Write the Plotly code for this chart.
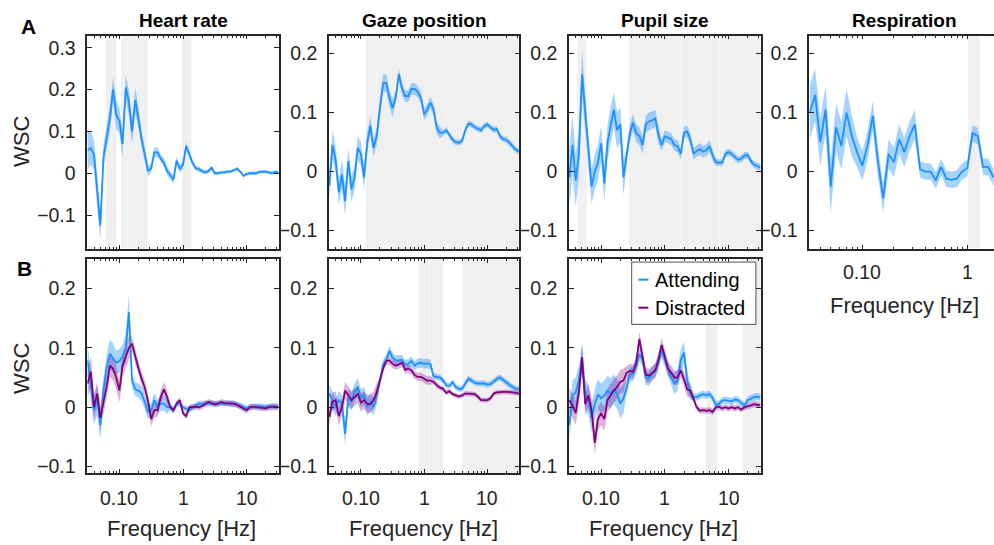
import math
import plotly.graph_objects as go

# ---------------- data ----------------
FREQ = [0.0316, 0.0355, 0.0398, 0.0447, 0.0501, 0.0562, 0.0631, 0.0708, 0.0794, 0.0891,
        0.1, 0.112, 0.126, 0.141, 0.158, 0.178, 0.2, 0.224, 0.251, 0.282,
        0.316, 0.355, 0.398, 0.447, 0.501, 0.562, 0.631, 0.708, 0.794, 0.891,
        1.0, 1.12, 1.26, 1.41, 1.58, 1.78, 2.0, 2.24, 2.51, 2.82,
        3.16, 3.55, 3.98, 4.47, 5.01, 5.62, 6.31, 7.08, 7.94, 8.91,
        10.0, 11.2, 12.6, 14.1, 15.8, 17.8, 20.0, 22.4, 25.1, 28.2, 31.6]
RESP_FREQ = FREQ[:36]

HEART_A = [0.055, 0.06, 0.045, -0.05, -0.125, 0.04, 0.09, 0.13, 0.20, 0.14,
           0.125, 0.07, 0.205, 0.17, 0.10, 0.175, 0.13, 0.08, 0.045, 0.005,
           0.012, 0.05, 0.05, 0.035, 0.025, 0.005, -0.005, -0.015, 0.03, 0.01,
           0.02, 0.065, 0.045, 0.025, 0.012, 0.01, 0.005, 0.002, 0.005, 0.013,
           0.0, 0.0, 0.002, 0.002, 0.004, 0.004, 0.007, 0.011, 0.004, -0.006,
           -0.002, 0.0, 0.0, 0.0, 0.003, 0.004, 0.004, 0.002, 0.0, 0.003, 0.002]
HEART_A_SEM = [0.045, 0.04, 0.035, 0.035, 0.035, 0.03, 0.03, 0.03, 0.03, 0.035,
               0.03, 0.03, 0.03, 0.03, 0.03, 0.03, 0.025, 0.02, 0.018, 0.012,
               0.01, 0.012, 0.012, 0.01, 0.01, 0.01, 0.01, 0.01, 0.01, 0.01,
               0.01, 0.01, 0.008, 0.007, 0.006, 0.006, 0.005, 0.005, 0.005, 0.005,
               0.005, 0.004, 0.004, 0.004, 0.004, 0.004, 0.004, 0.004, 0.004, 0.004,
               0.004, 0.004, 0.004, 0.004, 0.004, 0.004, 0.004, 0.004, 0.004, 0.004, 0.004]

GAZE_A = [-0.024, 0.045, 0.02, -0.035, -0.005, -0.05, 0.018, -0.03, -0.01, 0.04,
          0.03, -0.01, 0.05, 0.078, 0.04, 0.06, 0.108, 0.15, 0.15, 0.125,
          0.108, 0.125, 0.165, 0.14, 0.128, 0.128, 0.14, 0.14, 0.135, 0.125,
          0.097, 0.105, 0.117, 0.105, 0.074, 0.066, 0.066, 0.07, 0.062, 0.054,
          0.05, 0.049, 0.052, 0.07, 0.081, 0.08, 0.075, 0.073, 0.07, 0.077,
          0.08, 0.075, 0.071, 0.072, 0.06, 0.055, 0.054, 0.049, 0.043, 0.037, 0.034]
GAZE_A_SEM = [0.025, 0.025, 0.022, 0.022, 0.025, 0.025, 0.022, 0.022, 0.02, 0.02,
              0.02, 0.02, 0.018, 0.015, 0.015, 0.015, 0.015, 0.015, 0.015, 0.015,
              0.015, 0.01, 0.01, 0.01, 0.01, 0.01, 0.01, 0.01, 0.01, 0.01,
              0.01, 0.01, 0.01, 0.01, 0.01, 0.01, 0.005, 0.005, 0.005, 0.005,
              0.005, 0.005, 0.005, 0.005, 0.005, 0.005, 0.005, 0.005, 0.005, 0.005,
              0.005, 0.005, 0.005, 0.005, 0.005, 0.005, 0.005, 0.005, 0.005, 0.005, 0.005]

PUPIL_A = [-0.01, 0.045, -0.015, 0.03, 0.165, 0.10, 0.03, -0.025, 0.0, 0.015,
           0.048, -0.02, 0.05, 0.08, 0.105, 0.07, 0.08, -0.01, 0.025, 0.065,
           0.083, 0.065, 0.06, 0.045, 0.08, 0.085, 0.087, 0.09, 0.062, 0.045,
           0.06, 0.058, 0.055, 0.045, 0.043, 0.03, 0.066, 0.068, 0.055, 0.03,
           0.035, 0.038, 0.034, 0.036, 0.043, 0.028, 0.016, 0.015, 0.015, 0.03,
           0.033, 0.03, 0.025, 0.02, 0.022, 0.027, 0.028, 0.018, 0.012, 0.01, 0.007]
PUPIL_A_SEM = [0.05, 0.05, 0.045, 0.04, 0.04, 0.03, 0.03, 0.03, 0.03, 0.03,
               0.03, 0.03, 0.03, 0.03, 0.03, 0.03, 0.03, 0.03, 0.015, 0.015,
               0.015, 0.015, 0.015, 0.015, 0.015, 0.015, 0.015, 0.015, 0.015, 0.01,
               0.01, 0.01, 0.01, 0.01, 0.01, 0.01, 0.01, 0.01, 0.01, 0.01,
               0.01, 0.01, 0.01, 0.01, 0.01, 0.01, 0.006, 0.006, 0.006, 0.006,
               0.006, 0.006, 0.006, 0.006, 0.006, 0.006, 0.006, 0.006, 0.006, 0.006, 0.006]

RESP_A = [0.10, 0.13, 0.05, 0.105, -0.025, 0.075, 0.044, 0.10, 0.06, 0.033,
          0.01, 0.044, 0.095, 0.016, -0.045, 0.03, 0.016, 0.055, 0.033, 0.06,
          0.08, 0.004, 0.0, 0.0, -0.015, 0.008, -0.012, -0.014, -0.012, 0.0,
          0.006, 0.065, 0.06, 0.008, 0.008, -0.01]
RESP_A_SEM = [0.045, 0.045, 0.04, 0.04, 0.045, 0.04, 0.04, 0.04, 0.035, 0.025,
              0.025, 0.025, 0.025, 0.025, 0.025, 0.025, 0.025, 0.025, 0.025, 0.025,
              0.025, 0.014, 0.014, 0.014, 0.014, 0.014, 0.014, 0.014, 0.014, 0.014,
              0.014, 0.014, 0.014, 0.014, 0.014, 0.014]

HEART_B_ATT = [0.079, 0.04, -0.005, 0.012, -0.03, 0.03, 0.068, 0.09, 0.083, 0.075,
               0.078, 0.085, 0.10, 0.16, 0.045, 0.03, 0.028, 0.023, 0.008, -0.008,
               -0.005, 0.012, 0.0, 0.006, 0.006, 0.0, 0.0, -0.005, 0.006, 0.006,
               0.0, -0.002, -0.005, 0.0, 0.003, 0.006, 0.006, 0.006, 0.006, 0.006,
               0.006, 0.007, 0.007, 0.007, 0.007, 0.006, 0.006, 0.004, 0.003, 0.0,
               -0.002, 0.0, 0.001, 0.002, 0.002, 0.001, 0.0, 0.001, 0.002, 0.002, 0.001]
HEART_B_ATT_SEM = [0.025, 0.025, 0.025, 0.025, 0.025, 0.02, 0.02, 0.025, 0.025, 0.02,
                   0.02, 0.02, 0.025, 0.03, 0.012, 0.012, 0.012, 0.012, 0.012, 0.012,
                   0.012, 0.012, 0.012, 0.012, 0.012, 0.012, 0.005, 0.005, 0.005, 0.005,
                   0.005, 0.005, 0.005, 0.005, 0.005, 0.005, 0.005, 0.005, 0.005, 0.005,
                   0.005, 0.005, 0.005, 0.005, 0.005, 0.005, 0.005, 0.005, 0.005, 0.005,
                   0.005, 0.005, 0.005, 0.005, 0.005, 0.005, 0.005, 0.005, 0.005, 0.005, 0.005]
HEART_B_DIS = [0.04, 0.06, 0.0, 0.023, -0.018, 0.01, 0.035, 0.07, 0.065, 0.05,
               0.028, 0.07, 0.085, 0.10, 0.107, 0.085, 0.065, 0.048, 0.033, 0.01,
               -0.02, -0.005, -0.005, 0.017, 0.03, 0.017, 0.0, -0.005, 0.006, 0.012,
               -0.01, -0.015, 0.0, 0.0, 0.001, 0.0, 0.002, 0.006, 0.009, 0.007,
               0.005, 0.006, 0.009, 0.007, 0.007, 0.007, 0.006, 0.004, 0.001, -0.003,
               -0.005, 0.0, 0.001, 0.0, -0.001, -0.002, -0.002, 0.0, 0.001, 0.0, 0.0]
HEART_B_DIS_SEM = [0.025, 0.025, 0.02, 0.02, 0.02, 0.02, 0.02, 0.02, 0.02, 0.02,
                   0.02, 0.02, 0.02, 0.02, 0.012, 0.012, 0.012, 0.012, 0.012, 0.012,
                   0.012, 0.012, 0.012, 0.012, 0.012, 0.012, 0.005, 0.005, 0.005, 0.005,
                   0.005, 0.005, 0.005, 0.005, 0.005, 0.005, 0.005, 0.005, 0.005, 0.005,
                   0.005, 0.005, 0.005, 0.005, 0.005, 0.005, 0.005, 0.005, 0.005, 0.005,
                   0.005, 0.005, 0.005, 0.005, 0.005, 0.005, 0.005, 0.005, 0.005, 0.005, 0.005]

GAZE_B_ATT = [0.023, 0.01, 0.0, 0.012, 0.006, -0.045, 0.016, 0.01, 0.025, 0.034,
              0.015, 0.02, 0.0, 0.01, 0.0, 0.02, 0.045, 0.072, 0.08, 0.095,
              0.084, 0.079, 0.079, 0.08, 0.072, 0.073, 0.078, 0.07, 0.074, 0.075,
              0.073, 0.074, 0.072, 0.052, 0.051, 0.05, 0.045, 0.037, 0.036, 0.042,
              0.034, 0.031, 0.031, 0.04, 0.048, 0.045, 0.041, 0.04, 0.04, 0.04,
              0.038, 0.039, 0.043, 0.048, 0.05, 0.046, 0.041, 0.037, 0.034, 0.031, 0.03]
GAZE_B_ATT_SEM = [0.015, 0.015, 0.015, 0.015, 0.015, 0.02, 0.015, 0.015, 0.015, 0.015,
                  0.015, 0.015, 0.015, 0.015, 0.015, 0.015, 0.008, 0.008, 0.008, 0.008,
                  0.008, 0.008, 0.008, 0.008, 0.008, 0.008, 0.008, 0.008, 0.008, 0.008,
                  0.008, 0.008, 0.008, 0.005, 0.005, 0.005, 0.005, 0.005, 0.005, 0.005,
                  0.005, 0.005, 0.005, 0.005, 0.005, 0.005, 0.005, 0.005, 0.005, 0.005,
                  0.005, 0.005, 0.005, 0.005, 0.005, 0.005, 0.005, 0.005, 0.005, 0.005, 0.005]
GAZE_B_DIS = [-0.016, 0.01, 0.012, -0.015, 0.0, 0.028, 0.02, 0.012, 0.017, 0.022,
              0.008, 0.012, 0.006, 0.005, 0.012, 0.025, 0.045, 0.065, 0.078, 0.079,
              0.073, 0.07, 0.072, 0.075, 0.063, 0.065, 0.062, 0.054, 0.051, 0.051,
              0.048, 0.045, 0.045, 0.043, 0.037, 0.033, 0.031, 0.024, 0.027, 0.022,
              0.02, 0.018, 0.02, 0.023, 0.023, 0.022, 0.022, 0.018, 0.012, 0.012,
              0.012, 0.015, 0.023, 0.025, 0.026, 0.026, 0.026, 0.026, 0.025, 0.024, 0.023]
GAZE_B_DIS_SEM = [0.015, 0.015, 0.015, 0.015, 0.015, 0.015, 0.015, 0.015, 0.015, 0.015,
                  0.015, 0.015, 0.015, 0.015, 0.015, 0.015, 0.007, 0.007, 0.007, 0.007,
                  0.007, 0.007, 0.007, 0.007, 0.007, 0.007, 0.007, 0.007, 0.007, 0.007,
                  0.007, 0.007, 0.007, 0.004, 0.004, 0.004, 0.004, 0.004, 0.004, 0.004,
                  0.004, 0.004, 0.004, 0.004, 0.004, 0.004, 0.004, 0.004, 0.004, 0.004,
                  0.004, 0.004, 0.004, 0.004, 0.004, 0.004, 0.004, 0.004, 0.004, 0.004, 0.004]

PUPIL_B_ATT = [-0.03, 0.02, 0.025, 0.045, 0.084, 0.023, 0.012, -0.018, 0.005, 0.022,
               0.015, 0.02, 0.028, 0.023, 0.03, 0.022, 0.006, 0.015, 0.033, 0.055,
               0.056, 0.068, 0.09, 0.08, 0.05, 0.048, 0.056, 0.062, 0.075, 0.095,
               0.08, 0.065, 0.05, 0.04, 0.045, 0.08, 0.092, 0.045, 0.025, 0.017,
               0.017, 0.02, 0.022, 0.02, 0.022, 0.016, 0.004, 0.006, 0.011, 0.012,
               0.011, 0.01, 0.013, 0.012, 0.007, 0.003, 0.012, 0.015, 0.017, 0.018, 0.017]
PUPIL_B_ATT_SEM = [0.025, 0.025, 0.025, 0.025, 0.025, 0.025, 0.025, 0.025, 0.025, 0.025,
                   0.025, 0.025, 0.025, 0.025, 0.025, 0.025, 0.025, 0.025, 0.012, 0.012,
                   0.012, 0.012, 0.012, 0.012, 0.012, 0.012, 0.012, 0.012, 0.012, 0.012,
                   0.012, 0.012, 0.012, 0.018, 0.018, 0.018, 0.018, 0.018, 0.012, 0.006,
                   0.006, 0.006, 0.006, 0.006, 0.006, 0.006, 0.006, 0.006, 0.006, 0.006,
                   0.006, 0.006, 0.006, 0.006, 0.006, 0.006, 0.006, 0.006, 0.006, 0.006, 0.006]
PUPIL_B_DIS = [0.012, 0.003, -0.01, 0.025, 0.084, 0.005, 0.02, -0.005, -0.06, -0.02,
               -0.01, -0.02, 0.012, 0.02, 0.028, 0.034, 0.043, 0.045, 0.058, 0.061,
               0.06, 0.075, 0.115, 0.085, 0.055, 0.053, 0.058, 0.062, 0.08, 0.105,
               0.085, 0.065, 0.058, 0.05, 0.05, 0.062, 0.047, 0.03, 0.028, 0.015,
               0.0, -0.006, -0.005, -0.006, -0.005, -0.008, 0.0, 0.001, -0.002, 0.0,
               -0.002, 0.0, -0.002, 0.0, -0.004, 0.0, 0.001, 0.003, 0.005, 0.004, 0.003]
PUPIL_B_DIS_SEM = [0.02, 0.02, 0.02, 0.02, 0.02, 0.02, 0.02, 0.02, 0.02, 0.02,
                   0.02, 0.02, 0.02, 0.02, 0.02, 0.02, 0.02, 0.02, 0.012, 0.012,
                   0.012, 0.012, 0.012, 0.012, 0.012, 0.012, 0.012, 0.012, 0.012, 0.012,
                   0.012, 0.012, 0.012, 0.012, 0.012, 0.012, 0.012, 0.012, 0.012, 0.005,
                   0.005, 0.005, 0.005, 0.005, 0.005, 0.005, 0.005, 0.005, 0.005, 0.005,
                   0.005, 0.005, 0.005, 0.005, 0.005, 0.005, 0.005, 0.005, 0.005, 0.005, 0.005]

# significant frequency ranges (grey shading), in Hz
SIG_HEART_A = [[0.0615, 0.0906], [0.106, 0.274], [0.964, 1.35]]
SIG_GAZE_A = [[0.120, 0.172], [0.175, 32]]
SIG_PUPIL_A = [[0.0422, 0.0593], [0.273, 1.72], [1.76, 7.16], [7.27, 32]]
SIG_RESP_A = [[1.01, 1.32]]
SIG_HEART_B = []
SIG_GAZE_B = [[0.826, 1.21], [1.23, 2.0], [4.05, 32]]
SIG_PUPIL_B = [[4.42, 6.66], [16.7, 32]]

TITLES = ["Heart rate", "Gaze position", "Pupil size", "Respiration"]
XTICK_VALS = [0.1, 1, 10]
XTICK_TEXT = ["0.10", "1", "10"]
MINOR_TICKS = [0.04, 0.05, 0.06, 0.07, 0.08, 0.09, 0.2, 0.3, 0.4, 0.5, 0.6, 0.7, 0.8, 0.9,
               2, 3, 4, 5, 6, 7, 8, 9, 20, 30]
YTICKS_HEART_A = [-0.1, 0, 0.1, 0.2, 0.3]
YTICKS_OTHER = [-0.1, 0, 0.1, 0.2]
LEGEND_NAMES = ["Attending", "Distracted"]

# ---------------- styling ----------------
W, H = 994, 545
INK = "#262626"
FONT = "Liberation Sans, Arial, Helvetica, sans-serif"
BLUE = "#1E90FF"
BLUE_BAND = "rgba(30,144,255,0.40)"
PURPLE = "#800080"
PURPLE_BAND = "rgba(128,0,128,0.30)"
GREY = "#F0F0F0"

def px_x(a, b):
    return [a / W, b / W]

def px_y(top, bottom):
    return [1 - bottom / H, 1 - top / H]

COLS = [px_x(87.3, 278.7), px_x(329, 519.3), px_x(569, 760.7), [809.3 / W, 1.0]]
ROW_A = px_y(36, 250.7)
ROW_B = px_y(261, 476.7)
LOG_MIN, LOG_MAX, LOG_MAX_RESP = -1.505, 1.505, 0.254

fig = go.Figure()

def fmt(v):
    if v == 0:
        return "0"
    s = ("%g" % abs(v))
    return ("\u2212" + s) if v < 0 else s

panels = [
    (1, 0, ROW_A, [-0.181, 0.329], FREQ, [(HEART_A, HEART_A_SEM, BLUE, BLUE_BAND)], SIG_HEART_A, None, YTICKS_HEART_A),
    (2, 1, ROW_A, [-0.131, 0.2303], FREQ, [(GAZE_A, GAZE_A_SEM, BLUE, BLUE_BAND)], SIG_GAZE_A, None, YTICKS_OTHER),
    (3, 2, ROW_A, [-0.131, 0.2303], FREQ, [(PUPIL_A, PUPIL_A_SEM, BLUE, BLUE_BAND)], SIG_PUPIL_A, None, YTICKS_OTHER),
    (4, 3, ROW_A, [-0.131, 0.2303], RESP_FREQ, [(RESP_A, RESP_A_SEM, BLUE, BLUE_BAND)], SIG_RESP_A, 274.0, YTICKS_OTHER),
    (5, 0, ROW_B, [-0.1112, 0.2497], FREQ, [(HEART_B_ATT, HEART_B_ATT_SEM, BLUE, BLUE_BAND),
                                           (HEART_B_DIS, HEART_B_DIS_SEM, PURPLE, PURPLE_BAND)], SIG_HEART_B, 501.7, YTICKS_OTHER),
    (6, 1, ROW_B, [-0.1112, 0.2497], FREQ, [(GAZE_B_ATT, GAZE_B_ATT_SEM, BLUE, BLUE_BAND),
                                           (GAZE_B_DIS, GAZE_B_DIS_SEM, PURPLE, PURPLE_BAND)], SIG_GAZE_B, 501.7, YTICKS_OTHER),
    (7, 2, ROW_B, [-0.1112, 0.2497], FREQ, [(PUPIL_B_ATT, PUPIL_B_ATT_SEM, BLUE, BLUE_BAND),
                                           (PUPIL_B_DIS, PUPIL_B_DIS_SEM, PURPLE, PURPLE_BAND)], SIG_PUPIL_B, 501.7, YTICKS_OTHER),
]

ann = []
layout_axes = {}
for idx, col, row, yr, freq, series, sig, xlab_y, yticks in panels:
    xa = "x" if idx == 1 else "x%d" % idx
    ya = "y" if idx == 1 else "y%d" % idx
    is_resp = (idx == 4)
    for a, b in sig:
        fig.add_trace(go.Scatter(x=[a, b, b, a, a], y=[yr[0], yr[0], yr[1], yr[1], yr[0]],
                                 mode="lines", line=dict(width=0), fill="toself", fillcolor=GREY,
                                 hoverinfo="skip", showlegend=False, xaxis=xa, yaxis=ya))
    for vals, sem, color, band in series:
        assert len(vals) == len(freq) and len(sem) == len(freq)
        up = [v + e for v, e in zip(vals, sem)]
        lo = [v - e for v, e in zip(vals, sem)]
        fig.add_trace(go.Scatter(x=list(freq) + list(freq)[::-1], y=up + lo[::-1],
                                 mode="lines", line=dict(width=0), fill="toself", fillcolor=band,
                                 hoverinfo="skip", showlegend=False, xaxis=xa, yaxis=ya))
    for vals, sem, color, band in series:
        fig.add_trace(go.Scatter(x=freq, y=vals, mode="lines", line=dict(color=color, width=1.8),
                                 showlegend=False, xaxis=xa, yaxis=ya))

    xmax = LOG_MAX_RESP if is_resp else LOG_MAX
    minor_vals = [m for m in MINOR_TICKS if LOG_MIN <= math.log10(m) <= xmax]
    layout_axes["xaxis" if idx == 1 else "xaxis%d" % idx] = dict(
        type="log", range=[LOG_MIN, xmax], domain=COLS[col], anchor=ya,
        showline=True, linecolor=INK, linewidth=1.5, mirror="ticks",
        ticks="inside", ticklen=4, tickwidth=1, tickcolor=INK,
        tickvals=XTICK_VALS, showticklabels=False,
        minor=dict(tickvals=minor_vals, ticks="inside", ticklen=2.5, tickwidth=1, tickcolor=INK, showgrid=False),
        showgrid=False, zeroline=False, fixedrange=True)
    layout_axes["yaxis" if idx == 1 else "yaxis%d" % idx] = dict(
        range=yr, domain=row, anchor=xa,
        showline=True, linecolor=INK, linewidth=1.5, mirror=False if is_resp else "ticks",
        ticks="inside", ticklen=5, tickwidth=1, tickcolor=INK,
        tickvals=yticks, ticktext=[fmt(v) for v in yticks],
        tickfont=dict(family=FONT, size=19.5, color=INK), ticklabelstandoff=6,
        showgrid=False, zeroline=False, fixedrange=True)
    # x tick labels placed just below the axis (log axis: annotation x is log10 of the value)
    if xlab_y is not None:
        for tv, tt in zip(XTICK_VALS, XTICK_TEXT):
            if LOG_MIN <= math.log10(tv) <= xmax:
                ann.append(dict(x=math.log10(tv), y=1 - xlab_y / H, xref=xa, yref="paper", text=tt,
                                showarrow=False, xanchor="center", yanchor="middle",
                                font=dict(family=FONT, size=19.5, color=INK)))

fig.update_layout(**layout_axes)

def text(x, y, s, size, bold=False, angle=0, xanchor="center"):
    ann.append(dict(x=x, y=y, xref="paper", yref="paper", text=("<b>%s</b>" % s) if bold else s,
                    showarrow=False, xanchor=xanchor, yanchor="middle", textangle=angle,
                    font=dict(family=FONT, size=size, color="#000000" if bold else INK)))

for title, cx in zip(TITLES, [183.0, 424.2, 664.9, 904.7]):
    text(cx / W, 1 - 20.8 / H, title, 19, bold=True)
text(28.3 / W, 1 - 26.2 / H, "A", 21, bold=True)
text(24.2 / W, 1 - 270.5 / H, "B", 21, bold=True)
text(22 / W, 1 - 143 / H, "WSC", 22, angle=-90)
text(22 / W, 1 - 371.7 / H, "WSC", 22, angle=-90)
for cx in [181.7, 423.3, 663.3]:
    text(cx / W, 1 - 532.0 / H, "Frequency [Hz]", 22)
text(904.7 / W, 1 - 307.5 / H, "Frequency [Hz]", 22)

shapes = [dict(type="rect", xref="x7 domain", yref="y7 domain", x0=0.327, x1=0.975, y0=0.695, y1=0.986,
               fillcolor="white", line=dict(color=INK, width=0.8), layer="above")]
for name, color, yy in zip(LEGEND_NAMES, [BLUE, PURPLE], [0.904, 0.773]):
    shapes.append(dict(type="line", xref="x7 domain", yref="y7 domain", x0=0.362, x1=0.414, y0=yy, y1=yy,
                       line=dict(color=color, width=2), layer="above"))
    ann.append(dict(x=0.44, y=yy, xref="x7 domain", yref="y7 domain", text=name, showarrow=False,
                    xanchor="left", yanchor="middle", font=dict(family=FONT, size=20, color="#000000")))

fig.update_layout(width=W, height=H, margin=dict(l=0, r=0, t=0, b=0),
                  paper_bgcolor="white", plot_bgcolor="white", showlegend=False,
                  annotations=ann, shapes=shapes)

fig.write_html("out.html", config={"displayModeBar": False},
               post_script="document.body.style.margin='0';document.body.style.overflow='hidden';")
